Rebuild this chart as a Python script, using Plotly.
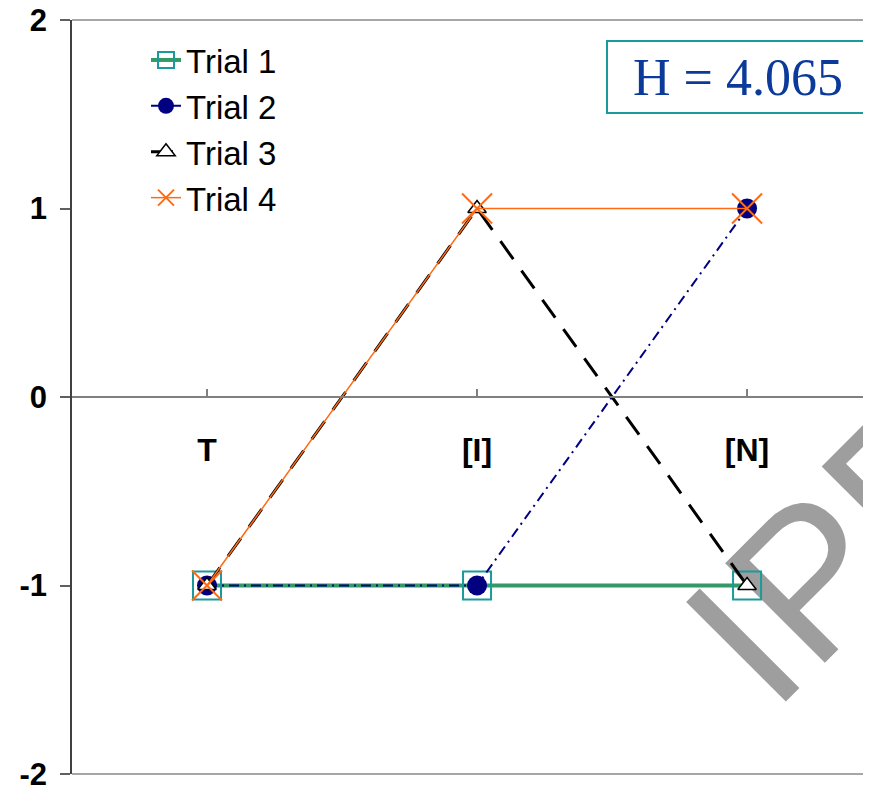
import plotly.graph_objects as go

categories = ["T", "[I]", "[N]"]
trial1 = [-1, -1, -1]
trial2 = [-1, -1, 1]
trial3 = [-1, 1, -1]
trial4 = [-1, 1, 1]
y_ticks = [-2, -1, 0, 1, 2]
y_tick_text = ["-2", "-1", "0", "1", "2"]
h_label = "H = 4.065"

# page body has an 8px margin: compensate so the plot area sits at 72..871 x, 20..774 y
OFF = 8
L, T, B = 72 - OFF, 20 - OFF, 788 - (774 - OFF)
R = OFF
PW = 799.0
PH = 754.0


def px_x(v):
    return (v - 72) / PW


def px_y(v):
    return (774 - v) / PH


fig = go.Figure()

fig.add_trace(go.Scatter(
    x=categories, y=trial1, name="Trial 1", mode="lines+markers",
    line=dict(color="#339966", width=4),
    marker=dict(symbol="square-open", size=28, color="#1a9a9a", line=dict(width=2, color="#1a9a9a")),
    legendgroup="g1"))
fig.add_trace(go.Scatter(
    x=categories, y=trial2, name="Trial 2", mode="lines+markers",
    line=dict(color="#000080", width=2, dash="10px,5px,2px,5px"),
    marker=dict(symbol="circle", size=20, color="#000080"),
    legendgroup="g2"))
fig.add_trace(go.Scatter(
    x=categories, y=trial3, name="Trial 3", mode="lines+markers",
    line=dict(color="#000000", width=3, dash="22px,14px"),
    marker=dict(symbol="triangle-up", size=16, color="#ffffff", line=dict(width=1.5, color="#000000")),
    legendgroup="g3"))
fig.add_trace(go.Scatter(
    x=categories, y=trial4, name="Trial 4", mode="lines+markers",
    line=dict(color="#ff6a13", width=1.5),
    marker=dict(symbol="x-thin-open", size=30, color="#ff6a13", line=dict(width=2, color="#ff6a13")),
    legendgroup="g4"))

fig.update_layout(
    width=871, height=788,
    margin=dict(l=L, r=R, t=T, b=B, autoexpand=False),
    paper_bgcolor="#ffffff", plot_bgcolor="#ffffff",
    font=dict(family="Liberation Sans, Arial", size=26, color="#000000"),
    showlegend=True,
    legend=dict(
        x=px_x(146), xanchor="left",
        y=px_y(32), yanchor="top",
        traceorder="grouped", tracegroupgap=0,
        bgcolor="rgba(0,0,0,0)",
        font=dict(family="Liberation Sans, Arial", size=33, color="#000000")),
    xaxis=dict(
        type="category", categoryorder="array", categoryarray=categories,
        range=[-0.5, 2.459],
        anchor="free", position=0.5, automargin=False,
        showline=True, linecolor="#808080", linewidth=1.5,
        ticks="inside", ticklen=7, tickcolor="#808080", tickwidth=1.5,
        ticklabelstandoff=25,
        tickfont=dict(family="Liberation Sans, Arial", size=32, color="#000000", weight="bold"),
        showgrid=False, zeroline=False, fixedrange=True),
    yaxis=dict(
        range=[-2, 2], tickvals=y_ticks, ticktext=y_tick_text,
        automargin=False, ticklabeloverflow="allow",
        showline=True, linecolor="#404040", linewidth=1.5,
        ticks="outside", ticklen=10, tickcolor="#606060", tickwidth=1.5,
        ticklabelstandoff=7,
        tickfont=dict(family="Liberation Sans, Arial", size=31, color="#000000", weight="bold"),
        showgrid=False, zeroline=False, fixedrange=True),
    shapes=[
        dict(type="line", xref="paper", yref="paper", x0=0, x1=1, y0=1, y1=1,
             line=dict(color="#888888", width=1.5)),
        dict(type="line", xref="paper", yref="paper", x0=0, x1=1, y0=0, y1=0,
             line=dict(color="#888888", width=1.5)),
        dict(type="rect", xref="paper", yref="paper",
             x0=0.943 - 0.05, x1=0.943 + 0.05, y0=0.318 - 0.05, y1=0.318 + 0.05,
             line=dict(width=0), fillcolor="rgba(0,0,0,0)", layer="below",
             label=dict(text="IPP", textangle=-45, textposition="middle center",
                        font=dict(family="Liberation Sans, Arial", size=205, color="#9e9e9e"))),
    ],
    annotations=[
        dict(text=h_label, xref="paper", yref="paper",
             x=px_x(738), y=px_y(77), xanchor="center", yanchor="middle",
             showarrow=False, width=256, height=66, borderpad=2,
             bordercolor="#1a9a9a", borderwidth=2, bgcolor="#ffffff",
             font=dict(family="Liberation Serif, Times New Roman", size=52, color="#0b3a9a")),
    ],
)

fig.write_html("out.html")
